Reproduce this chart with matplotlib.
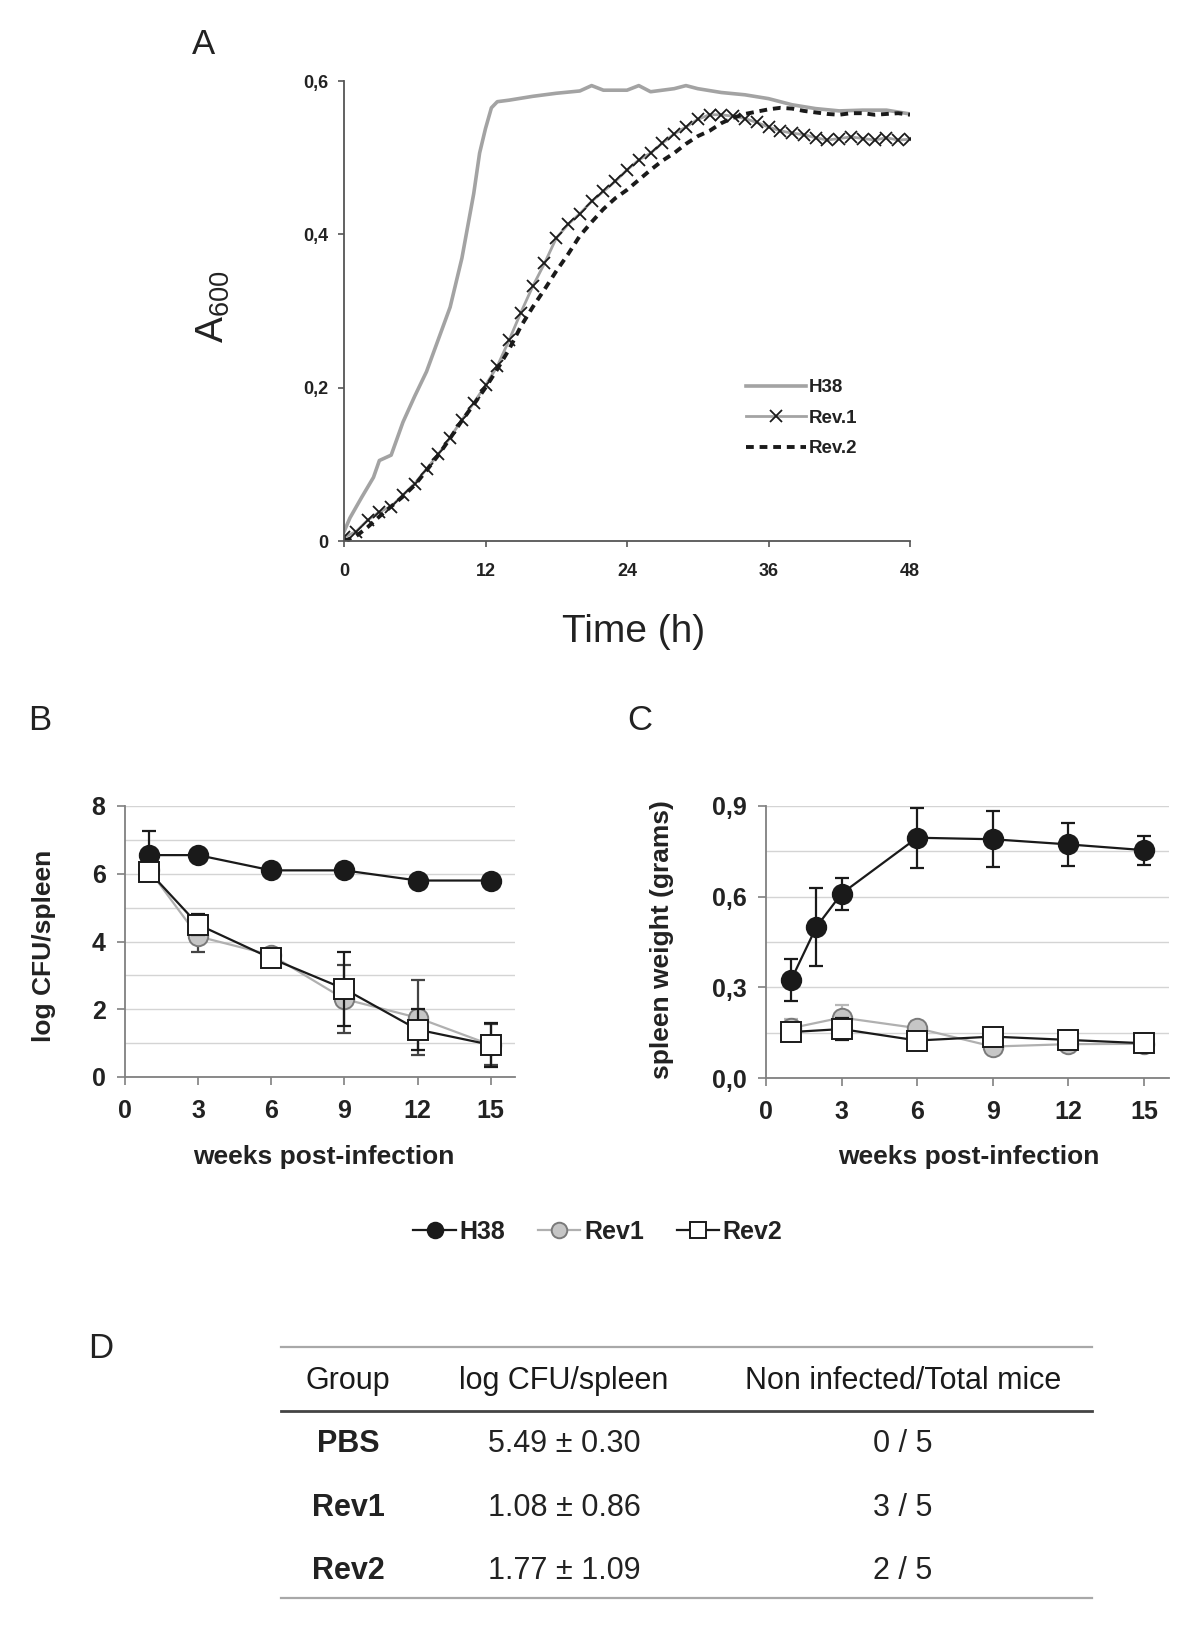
import matplotlib
matplotlib.use("Agg")
import matplotlib.pyplot as plt
from matplotlib.lines import Line2D
from matplotlib.ticker import MultipleLocator

plt.rcParams['font.family'] = ['Liberation Sans', 'DejaVu Sans']
plt.rcParams['mathtext.default'] = 'regular'

W, H = 1200, 1630
TXT = '#222222'

# ---------------- panel A: growth curves (A600 vs time)
h38_time = [0, 0.5, 1.5, 2.5, 3, 4, 5, 6, 7, 8, 9, 10, 11, 11.5, 12, 12.5, 13, 14,
            16, 18, 20, 21, 22, 24, 25, 26, 28, 29, 30, 32, 34, 36, 38, 40, 42, 44, 46, 48]
h38_a600 = [0.012, 0.03, 0.057, 0.083, 0.105, 0.112, 0.155, 0.189, 0.221, 0.263, 0.305,
            0.369, 0.453, 0.506, 0.538, 0.565, 0.573, 0.575, 0.580, 0.584, 0.587, 0.594,
            0.588, 0.588, 0.594, 0.586, 0.590, 0.594, 0.590, 0.585, 0.582, 0.577, 0.569,
            0.564, 0.561, 0.562, 0.562, 0.557]

rev1_time = list(range(49))
rev1_a600 = [0.005, 0.012, 0.027, 0.038, 0.045, 0.060, 0.075, 0.094, 0.113, 0.135,
             0.158, 0.180, 0.203, 0.228, 0.262, 0.298, 0.332, 0.362, 0.395, 0.413,
             0.427, 0.443, 0.456, 0.469, 0.484, 0.497, 0.506, 0.519, 0.531, 0.540,
             0.550, 0.556, 0.556, 0.554, 0.551, 0.546, 0.540, 0.535, 0.532, 0.530,
             0.526, 0.523, 0.525, 0.527, 0.525, 0.523, 0.526, 0.523, 0.524]

rev2_time = list(range(49))
rev2_a600 = [0.0, 0.006, 0.018, 0.032, 0.045, 0.058, 0.073, 0.092, 0.112, 0.134,
             0.157, 0.178, 0.200, 0.224, 0.250, 0.280, 0.305, 0.328, 0.352, 0.374,
             0.398, 0.416, 0.433, 0.447, 0.458, 0.471, 0.484, 0.496, 0.506, 0.518,
             0.528, 0.535, 0.545, 0.552, 0.557, 0.560, 0.563, 0.565, 0.564, 0.561,
             0.559, 0.557, 0.556, 0.558, 0.558, 0.556, 0.557, 0.558, 0.556]

a_xticks = [0, 12, 24, 36, 48]
a_yticks = [0, 0.2, 0.4, 0.6]
a_yticklabels = ['0', '0,2', '0,4', '0,6']

# ---------------- panel B: log CFU/spleen
weeks = [1, 3, 6, 9, 12, 15]
cfu_h38 = [6.55, 6.55, 6.1, 6.1, 5.8, 5.8]
cfu_h38_err = [0.7, 0.15, 0.12, 0.12, 0.1, 0.1]
cfu_rev1 = [6.1, 4.15, 3.6, 2.3, 1.75, 0.95]
cfu_rev1_err = [0.3, 0.45, 0.15, 1.0, 1.1, 0.6]
cfu_rev2 = [6.05, 4.5, 3.5, 2.6, 1.4, 0.95]
cfu_rev2_err = [0.2, 0.3, 0.15, 1.1, 0.6, 0.65]

# ---------------- panel C: spleen weight
weeks_h38_c = [1, 2, 3, 6, 9, 12, 15]
spleen_h38 = [0.325, 0.50, 0.61, 0.795, 0.79, 0.773, 0.754]
spleen_h38_err = [0.07, 0.13, 0.053, 0.10, 0.093, 0.07, 0.048]
spleen_rev1 = [0.165, 0.20, 0.165, 0.104, 0.112, 0.113]
spleen_rev1_err = [0.03, 0.04, 0.025, 0.015, 0.01, 0.01]
spleen_rev2 = [0.152, 0.162, 0.124, 0.137, 0.126, 0.115]
spleen_rev2_err = [0.02, 0.035, 0.02, 0.02, 0.015, 0.01]

bc_xticks = [0, 3, 6, 9, 12, 15]
b_yticks = [0, 2, 4, 6, 8]
c_yticks = [0, 0.3, 0.6, 0.9]
c_yticklabels = ['0,0', '0,3', '0,6', '0,9']

# ---------------- panel D: table
groups = ['PBS', 'Rev1', 'Rev2']
cfu_mean = [5.49, 1.08, 1.77]
cfu_sd = [0.30, 0.86, 1.09]
non_infected = [0, 3, 2]
total_mice = [5, 5, 5]


def px_rect(x0, y0, x1, y1):
    return [x0 / W, 1 - y1 / H, (x1 - x0) / W, (y1 - y0) / H]


def ftext(x, y, s, **kw):
    kw.setdefault('ha', 'center')
    kw.setdefault('va', 'center')
    kw.setdefault('color', TXT)
    fig.text(x / W, 1 - y / H, s, **kw)


fig = plt.figure(figsize=(12, 16.3), dpi=100)

# ===== A
axA = fig.add_axes(px_rect(344, 81, 910, 541))
lh38, = axA.plot(h38_time, h38_a600, color='#a3a3a3', lw=2.6, label='H38')
lr1, = axA.plot(rev1_time, rev1_a600, color='#a3a3a3', lw=2.0, marker='x',
                markersize=8, markeredgecolor='#1a1a1a', markeredgewidth=1.3, label='Rev.1')
lr2, = axA.plot(rev2_time, rev2_a600, color='#1a1a1a', lw=2.8, linestyle=(0, (2, 1.5)),
                label='Rev.2')
axA.set_xlim(0, 48)
axA.set_ylim(0, 0.6)
axA.set_xticks(a_xticks)
axA.set_yticks(a_yticks)
axA.set_yticklabels(a_yticklabels)
for s in ['top', 'right']:
    axA.spines[s].set_visible(False)
for s in ['left', 'bottom']:
    axA.spines[s].set_color('#555555')
    axA.spines[s].set_linewidth(1.3)
axA.tick_params(axis='both', colors='#555555', length=4, width=1.2, labelsize=13,
                labelcolor=TXT)
axA.tick_params(axis='x', pad=12)
axA.tick_params(axis='y', pad=7)
for t in axA.get_xticklabels() + axA.get_yticklabels():
    t.set_fontweight('bold')
axA.legend(handles=[lh38, lr1, lr2], loc='upper left', bbox_to_anchor=(0.71, 0.352),
           frameon=False, handlelength=3.2, handletextpad=0.15, borderpad=0,
           borderaxespad=0, labelspacing=0.72,
           prop={'weight': 'bold', 'size': 13.5}, labelcolor=TXT)
ftext(203, 44, 'A', fontsize=25)
ftext(213, 307, 'A$_{600}$', fontsize=28, rotation=90)
ftext(634, 632, 'Time (h)', fontsize=28)


# ===== B and C
def style_bc(ax, ymax, yticks, yticklabels, minor):
    ax.set_xlim(0, 16)
    ax.set_ylim(0, ymax)
    ax.set_xticks(bc_xticks)
    ax.set_yticks(yticks)
    if yticklabels is not None:
        ax.set_yticklabels(yticklabels)
    ax.yaxis.set_minor_locator(MultipleLocator(minor))
    ax.yaxis.grid(True, which='both', color='#d4d4d4', lw=1.0)
    ax.set_axisbelow(True)
    for s in ['top', 'right']:
        ax.spines[s].set_visible(False)
    for s in ['left', 'bottom']:
        ax.spines[s].set_color('#808080')
        ax.spines[s].set_linewidth(1.3)
    ax.tick_params(axis='both', which='major', colors='#808080', length=6, width=1.2,
                   labelsize=18, labelcolor=TXT)
    ax.tick_params(axis='y', which='minor', length=0)
    ax.tick_params(axis='x', pad=10)
    ax.tick_params(axis='y', pad=8)
    for t in ax.get_xticklabels() + ax.get_yticklabels():
        t.set_fontweight('bold')


def draw_series(ax, x, y, err, color, ecolor, lw, marker, mfc, mec, z):
    ax.errorbar(x, y, yerr=err, fmt='none', ecolor=ecolor, elinewidth=1.6,
                capsize=5, capthick=1.6, zorder=z)
    line, = ax.plot(x, y, color=color, lw=lw, marker=marker, markersize=14,
                    markerfacecolor=mfc, markeredgecolor=mec, markeredgewidth=1.4,
                    zorder=z + 0.5)
    return line


axB = fig.add_axes(px_rect(125, 806, 515, 1077))
hb1 = draw_series(axB, weeks, cfu_h38, cfu_h38_err, '#1a1a1a', '#1a1a1a', 1.6, 'o',
                  '#1a1a1a', '#1a1a1a', 4)
hb2 = draw_series(axB, weeks, cfu_rev1, cfu_rev1_err, '#b0b0b0', '#444444', 1.6, 'o',
                  '#c6c6c6', '#7a7a7a', 2)
hb3 = draw_series(axB, weeks, cfu_rev2, cfu_rev2_err, '#1a1a1a', '#1a1a1a', 1.6, 's',
                  'white', '#1a1a1a', 6)
style_bc(axB, 8, b_yticks, None, 1)

axC = fig.add_axes(px_rect(766, 806, 1169, 1078))
draw_series(axC, weeks_h38_c, spleen_h38, spleen_h38_err, '#1a1a1a', '#1a1a1a', 1.6, 'o',
            '#1a1a1a', '#1a1a1a', 4)
draw_series(axC, weeks, spleen_rev1, spleen_rev1_err, '#b0b0b0', '#b8b8b8', 1.6, 'o',
            '#c6c6c6', '#7a7a7a', 2)
draw_series(axC, weeks, spleen_rev2, spleen_rev2_err, '#1a1a1a', '#1a1a1a', 1.6, 's',
            'white', '#1a1a1a', 6)
style_bc(axC, 0.9, c_yticks, c_yticklabels, 0.15)

ftext(40, 721, 'B', fontsize=25)
ftext(640, 721, 'C', fontsize=25)
ftext(44, 946, 'log CFU/spleen', fontsize=19, fontweight='bold', rotation=90)
ftext(324, 1157, 'weeks post-infection', fontsize=19, fontweight='bold')
ftext(662, 940, 'spleen weight (grams)', fontsize=19, fontweight='bold', rotation=90)
ftext(969, 1157, 'weeks post-infection', fontsize=19, fontweight='bold')

fig.legend(handles=[hb1, hb2, hb3], labels=['H38', 'Rev1', 'Rev2'], loc='center',
           bbox_to_anchor=(598 / W, 1 - 1232 / H), ncol=3, frameon=False,
           handlelength=1.7, handletextpad=0.15, columnspacing=1.3, markerscale=0.8,
           prop={'weight': 'bold', 'size': 18}, labelcolor=TXT)

# ===== D table
ftext(101, 1349, 'D', fontsize=25)
x_left, x_right = 281, 1092
for yy, col, lw in [(1347, '#a8a8a8', 1.6), (1411, '#444444', 2.0), (1598, '#a8a8a8', 1.6)]:
    fig.add_artist(Line2D([x_left / W, x_right / W], [1 - yy / H, 1 - yy / H],
                          color=col, lw=lw))
col_x = [348, 564, 903]
headers = ['Group', 'log CFU/spleen', 'Non infected/Total mice']
for cx, hd in zip(col_x, headers):
    ftext(cx, 1381, hd, fontsize=22, color='#1a1a1a')
row_y = [1444, 1508, 1571]
for ry, g, m, sd, ni, tot in zip(row_y, groups, cfu_mean, cfu_sd, non_infected, total_mice):
    ftext(col_x[0], ry, g, fontsize=22, fontweight='bold')
    ftext(col_x[1], ry, f'{m:.2f} \u00b1 {sd:.2f}', fontsize=22)
    ftext(col_x[2], ry, f'{ni} / {tot}', fontsize=22)

fig.savefig('out.png', dpi=100, facecolor='white')
